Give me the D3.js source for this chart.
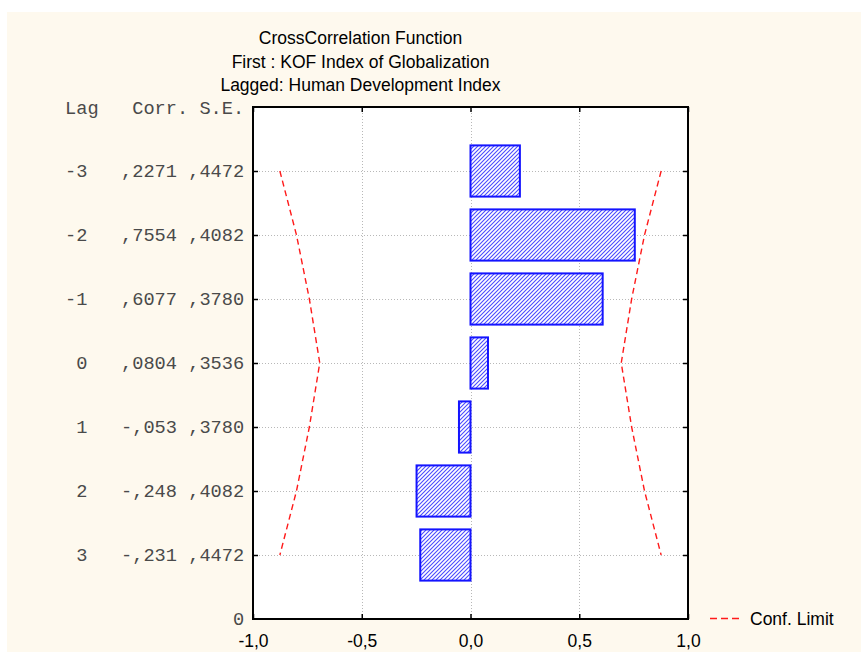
<!DOCTYPE html>
<html>
<head>
<meta charset="utf-8">
<script src="https://cdn.jsdelivr.net/npm/d3@7"></script>
<style>
  html, body { margin: 0; padding: 0; background: #ffffff; }
  svg { display: block; }
</style>
</head>
<body>
<svg id="chart" width="861" height="652"></svg>
<script>
// ---- data ----
const lags = [-3, -2, -1, 0, 1, 2, 3];
const corr = [0.2271, 0.7554, 0.6077, 0.0804, -0.053, -0.248, -0.231];
const se = [0.4472, 0.4082, 0.3780, 0.3536, 0.3780, 0.4082, 0.4472];
const corrLabels = [",2271", ",7554", ",6077", ",0804", "-,053", "-,248", "-,231"];
const seLabels = [",4472", ",4082", ",3780", ",3536", ",3780", ",4082", ",4472"];
const xTicks = [-1, -0.5, 0, 0.5, 1];
const xTickLabels = ["-1,0", "-0,5", "0,0", "0,5", "1,0"];
const titleLines = ["CrossCorrelation Function", "First : KOF Index of Globalization", "Lagged: Human Development Index"];
const headers = ["Lag", "Corr.", "S.E."];
const confZ = 1.96;

// ---- layout ----
const svg = d3.select("#chart");
const W = 861, H = 652;
const plot = {left: 253, right: 688, top: 107, bottom: 619};
const x = d3.scaleLinear().domain([-1, 1]).range([plot.left, plot.right]);
const y = d3.scaleLinear().domain([-4, 4]).range([plot.top, plot.bottom]);
const band = y(1) - y(0);
const barH = band * 0.8;
const sans = "Liberation Sans, Arial, sans-serif";
const sansSize = 17.5;

svg.append("rect").attr("x", 7).attr("y", 12).attr("width", W - 7).attr("height", H - 12).attr("fill", "#fef9ee");

const defs = svg.append("defs");
const pat = defs.append("pattern").attr("id", "hatch").attr("patternUnits", "userSpaceOnUse")
  .attr("width", 4).attr("height", 4);
pat.append("rect").attr("width", 4).attr("height", 4).attr("fill", "#ffffff");
pat.append("path").attr("d", "M-1,1 L1,-1 M0,4 L4,0 M3,5 L5,3")
  .attr("stroke", "#4a4aff").attr("stroke-width", 1.1);

// plot background
svg.append("rect").attr("x", plot.left).attr("y", plot.top)
  .attr("width", plot.right - plot.left).attr("height", plot.bottom - plot.top).attr("fill", "#ffffff");

// grid
const grid = svg.append("g").attr("stroke", "#b8b8b8").attr("stroke-width", 1).attr("stroke-dasharray", "1,2");
grid.selectAll("line.v").data([-0.5, 0, 0.5]).join("line")
  .attr("x1", d => Math.round(x(d)) + 0.5).attr("x2", d => Math.round(x(d)) + 0.5)
  .attr("y1", plot.top).attr("y2", plot.bottom);
grid.selectAll("line.h").data(lags).join("line")
  .attr("y1", d => Math.round(y(d)) + 0.5).attr("y2", d => Math.round(y(d)) + 0.5)
  .attr("x1", plot.left).attr("x2", plot.right);

// bars
svg.append("g").selectAll("rect").data(lags).join("rect")
  .attr("x", (d, i) => x(Math.min(0, corr[i])))
  .attr("width", (d, i) => Math.abs(x(corr[i]) - x(0)))
  .attr("y", d => y(d) - barH / 2)
  .attr("height", barH)
  .attr("fill", "url(#hatch)")
  .attr("stroke", "#1414ff").attr("stroke-width", 2);

// confidence limits
const line = d3.line().x(d => x(d[0])).y(d => y(d[1]));
const right = lags.map((l, i) => [confZ * se[i], l]);
const left = lags.map((l, i) => [-confZ * se[i], l]);
[left, right].forEach(pts => {
  svg.append("path").attr("d", line(pts)).attr("fill", "none")
    .attr("stroke", "#ff1a1a").attr("stroke-width", 1.4).attr("stroke-dasharray", "6,4");
});

// frame
svg.append("rect").attr("x", plot.left).attr("y", plot.top)
  .attr("width", plot.right - plot.left).attr("height", plot.bottom - plot.top)
  .attr("fill", "none").attr("stroke", "#000").attr("stroke-width", 2);

// axes (ticks inward)
const xAxis = d3.axisBottom(x).tickValues(xTicks).tickSizeInner(-5).tickSizeOuter(0).tickPadding(14)
  .tickFormat((d, i) => xTickLabels[i]);
const gx = svg.append("g").attr("transform", `translate(0,${plot.bottom})`).call(xAxis);
gx.select(".domain").remove();
gx.selectAll(".tick line").attr("stroke", "#000").attr("stroke-width", 1.5);
gx.selectAll(".tick text").attr("font-family", sans)
  .attr("font-size", sansSize).attr("fill", "#000").attr("dy", null).attr("y", 28);

const gxt = svg.append("g").attr("transform", `translate(0,${plot.top})`)
  .call(d3.axisTop(x).tickValues(xTicks).tickSizeInner(-5).tickSizeOuter(0).tickFormat(""));
gxt.select(".domain").remove();
gxt.selectAll(".tick line").attr("stroke", "#000").attr("stroke-width", 1.5);

const gyl = svg.append("g").attr("transform", `translate(${plot.left},0)`)
  .call(d3.axisLeft(y).tickValues(lags).tickSizeInner(-5).tickSizeOuter(0).tickFormat(""));
gyl.select(".domain").remove();
gyl.selectAll(".tick line").attr("stroke", "#000").attr("stroke-width", 1.5);
const gyr = svg.append("g").attr("transform", `translate(${plot.right},0)`)
  .call(d3.axisRight(y).tickValues(lags).tickSizeInner(-5).tickSizeOuter(0).tickFormat(""));
gyr.select(".domain").remove();
gyr.selectAll(".tick line").attr("stroke", "#000").attr("stroke-width", 1.5);

// table of lag / corr / s.e.
const mono = "Liberation Mono, Courier New, monospace";
const cw = 11.2, fs = cw / 0.6, tx0 = 65;
const tbl = svg.append("g").attr("font-family", mono).attr("font-size", fs).attr("fill", "#4a4a4a");
tbl.append("text").attr("x", tx0).attr("y", 113.5).text(headers[0]);
tbl.append("text").attr("x", tx0 + 6 * cw).attr("y", 113.5).text(headers[1]);
tbl.append("text").attr("x", tx0 + 12 * cw).attr("y", 113.5).text(headers[2]);
tbl.selectAll("text.lag").data(lags).join("text").attr("class", "lag")
  .attr("x", tx0 + 2 * cw).attr("text-anchor", "end").attr("y", d => y(d) + 6).text(d => d);
tbl.selectAll("text.corr").data(lags).join("text").attr("class", "corr")
  .attr("x", tx0 + 5 * cw).attr("y", d => y(d) + 6).text((d, i) => corrLabels[i]);
tbl.selectAll("text.se").data(lags).join("text").attr("class", "se")
  .attr("x", tx0 + 11 * cw).attr("y", d => y(d) + 6).text((d, i) => seLabels[i]);
tbl.append("text").attr("x", tx0 + 16 * cw).attr("text-anchor", "end").attr("y", y(4) + 6).text("0");

// title
svg.append("g").attr("font-family", sans).attr("font-size", sansSize).attr("fill", "#000")
  .selectAll("text").data(titleLines).join("text")
  .attr("x", 360.5).attr("y", (d, i) => 44 + i * 23.7).attr("text-anchor", "middle").text(d => d);

// legend
svg.append("line").attr("x1", 710).attr("x2", 740).attr("y1", 618.5).attr("y2", 618.5)
  .attr("stroke", "#ff1a1a").attr("stroke-width", 1.5).attr("stroke-dasharray", "7,4");
svg.append("text").attr("x", 750).attr("y", 624.5).attr("font-family", sans)
  .attr("font-size", sansSize).attr("fill", "#000").text("Conf. Limit");
</script>
</body>
</html>
